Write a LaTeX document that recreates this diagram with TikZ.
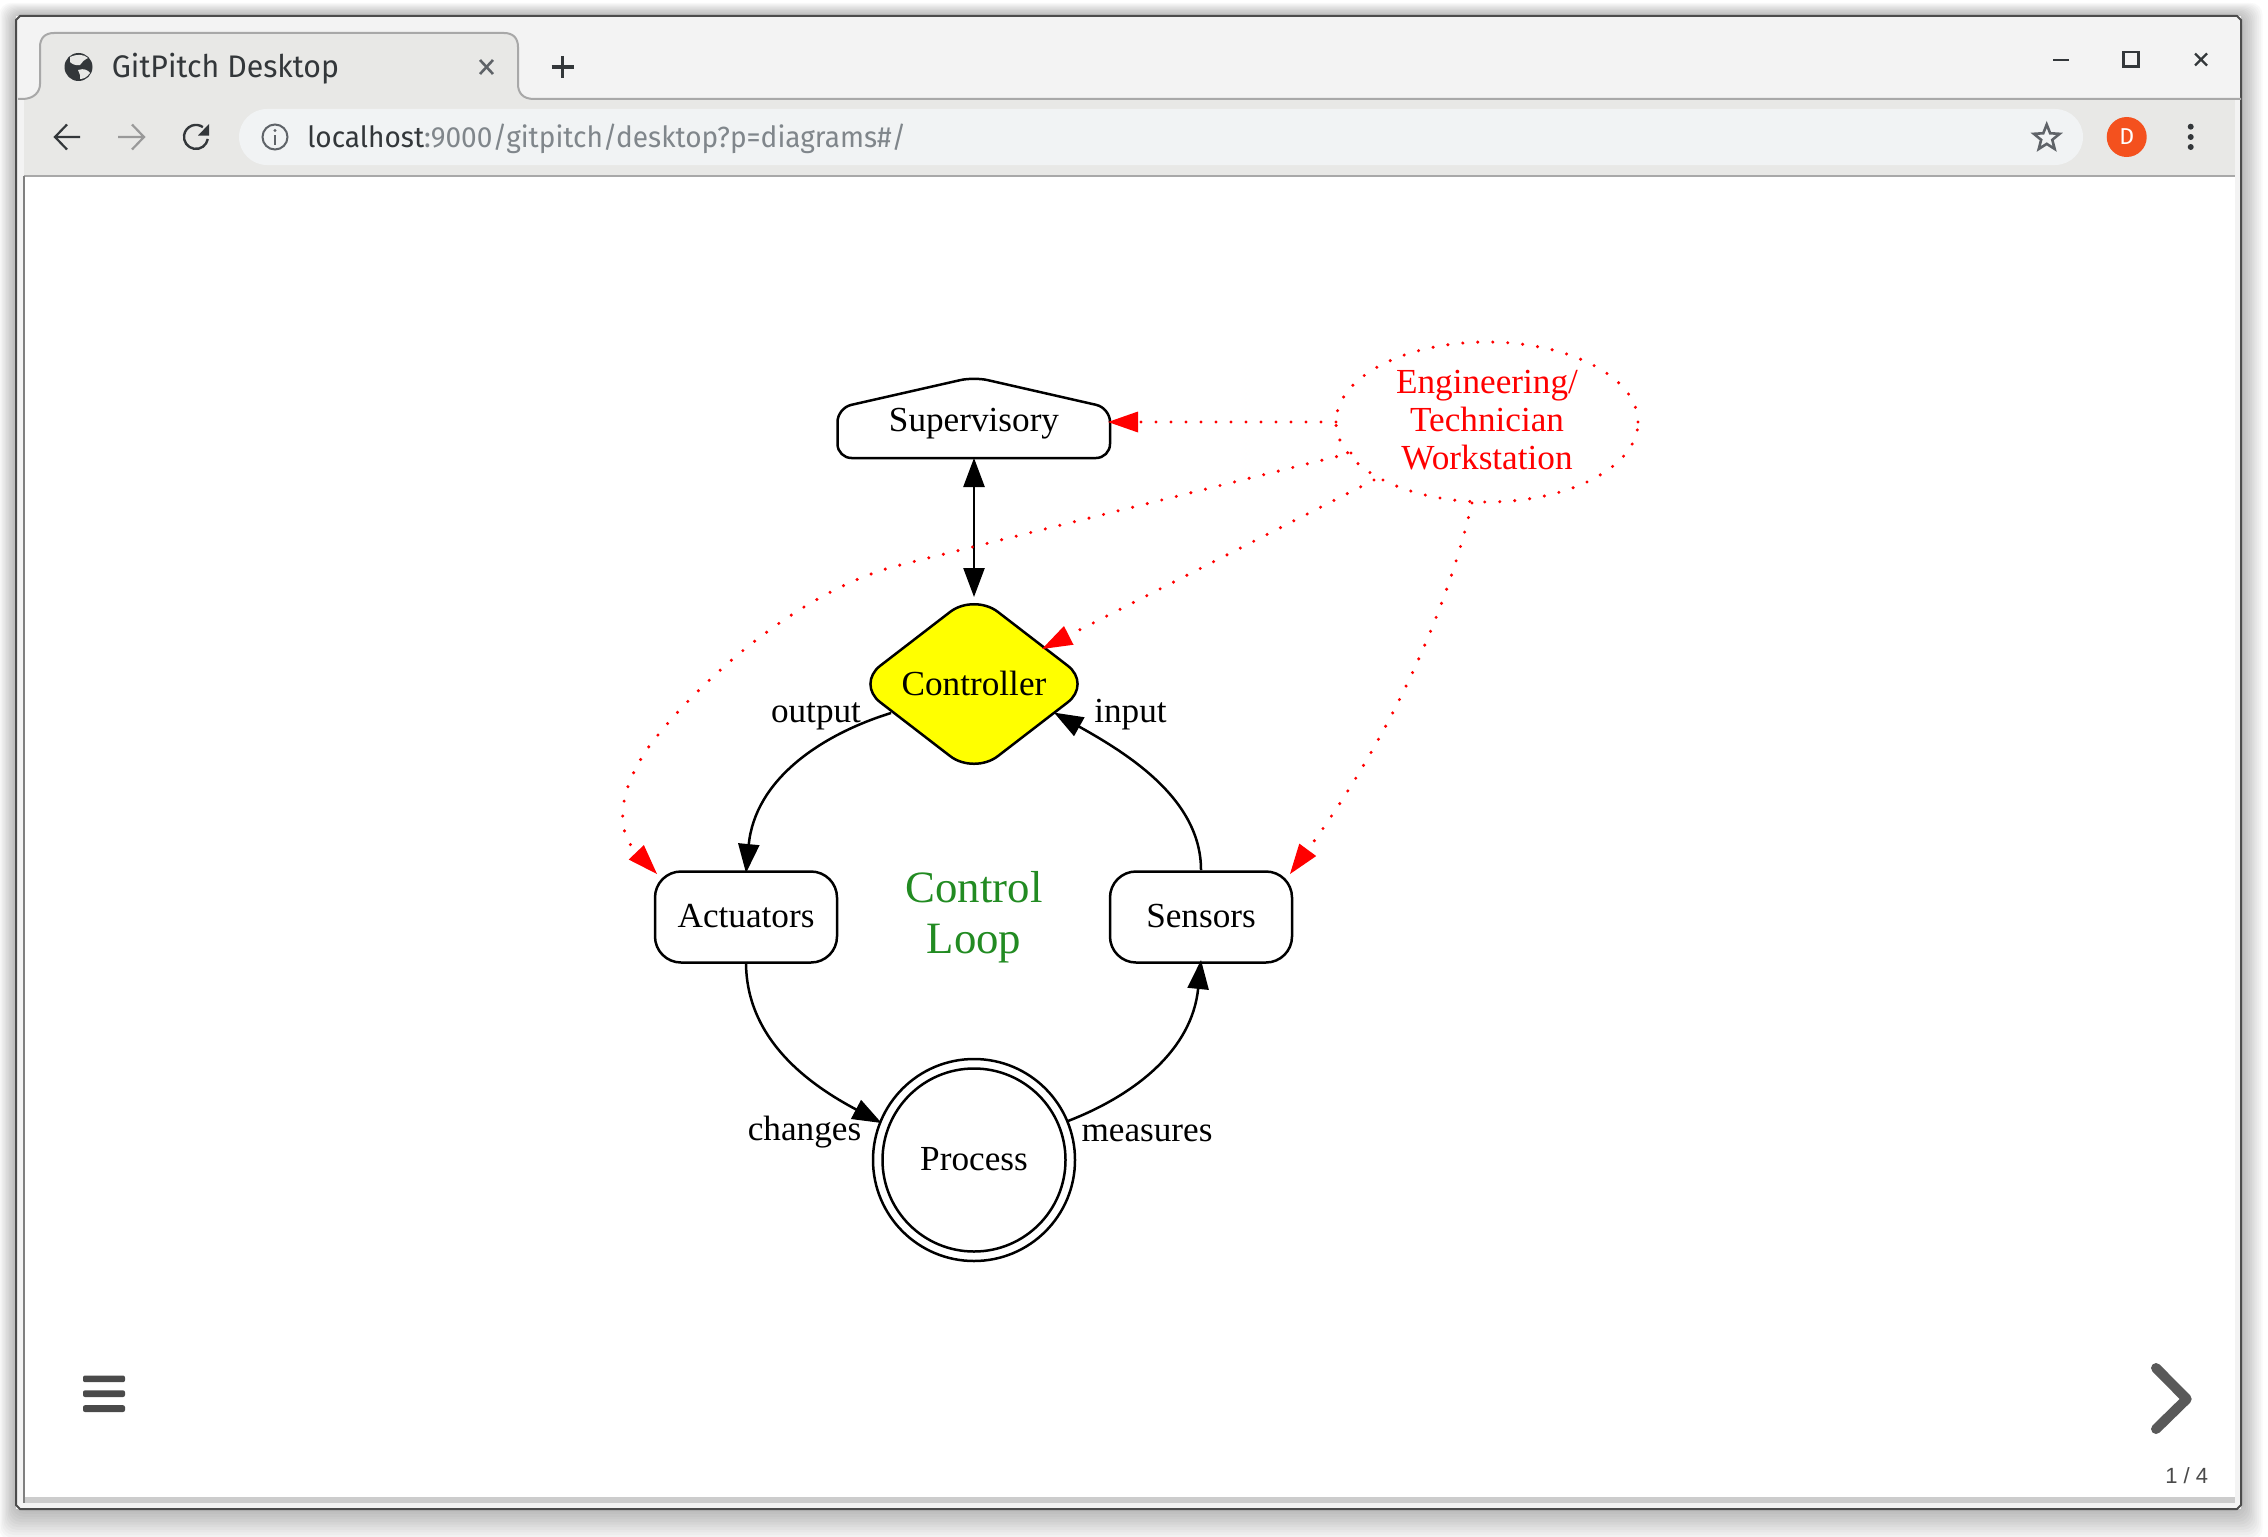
\documentclass[tikz,border=0pt]{standalone}
\usepackage{fontspec}
\setmainfont{Liberation Serif}
\newfontfamily\uifont{Fira Sans}
\newfontfamily\urlfont[FakeStretch=0.96]{Fira Sans}
\newfontfamily\tabfont[FakeStretch=0.97]{Fira Sans}
\newfontfamily\pagefont{Liberation Sans}
\usetikzlibrary{arrows.meta,shapes.geometric}
\definecolor{tabgrey}{HTML}{E8E8E6}
\definecolor{barlight}{HTML}{F3F3F3}
\definecolor{edgegrey}{HTML}{A8A8A8}
\definecolor{omni}{HTML}{F1F3F4}
\definecolor{iconink}{HTML}{33373A}
\definecolor{iconsoft}{HTML}{5F6368}
\definecolor{urlgrey}{HTML}{80868B}
\definecolor{avatar}{HTML}{F4511E}
\definecolor{navink}{HTML}{4A4A4A}
\definecolor{loopgreen}{RGB}{34,139,34}
\definecolor{ctrlyellow}{RGB}{255,255,0}
\definecolor{dotred}{RGB}{255,0,0}
\tikzset{
  gvtext/.style={font=\fontsize{17.6}{19}\selectfont,text=black,inner sep=0pt},
  gvbox/.style={draw=black,line width=1.25pt,rectangle,rounded corners=13pt,minimum width=91pt,minimum height=45.5pt,inner sep=0pt,font=\fontsize{17.6}{19}\selectfont},
  flow/.style={draw=black,line width=1.25pt,-{Triangle[length=14.5pt,width=10.5pt]}},
  redflow/.style={draw=dotred,line width=1.7pt,dash pattern=on 0pt off 7.5pt,line cap=round,-{Triangle[length=15pt,width=10.5pt,line width=0pt]}},
  edgelabel/.style={font=\fontsize{17.6}{19}\selectfont,anchor=base,inner sep=0pt},
  uitext/.style={font=\uifont,inner sep=0pt,anchor=base west},
}
\begin{document}
\begin{tikzpicture}[x=0.5pt,y=-0.5pt]
\useasboundingbox (0,0) rectangle (2268,1536);
\fill[white] (0,0) rectangle (2268,1536);
% window shadow
\foreach \d in {2,4,...,24}{
  \fill[black,opacity=.022,rounded corners=6pt] ({16-0.7*\d},{16-0.55*\d}) rectangle ({2241+0.9*\d},{1509+1.3*\d});
}
% window
\fill[barlight] (16,16) rectangle (2241,1509);
\fill[white] (24,176) rectangle (2235,1497);
\fill[tabgrey] (24,99) rectangle (2235,176);
\fill[barlight] (2235,99) rectangle (2241,1509);
\fill[black!20] (24,1497) rectangle (2235,1503);
\draw[edgegrey,line width=1pt] (24,176) -- (2235,176);
\draw[gray,line width=1.2pt] (24,176) -- (24,1503);
\draw[black!70,line width=1pt] (16,1505) -- (16,20) -- (20,16) -- (2237,16) -- (2241,20) -- (2241,1505) -- (2237,1509) -- (20,1509) -- cycle;
% tab
\fill[tabgrey] (22,99) .. controls (34,99) and (40,92) .. (40,84) -- (40,47) .. controls (40,38) and (45,33) .. (54,33) -- (504,33) .. controls (513,33) and (518,38) .. (518,47) -- (518,84) .. controls (518,92) and (522,99) .. (534,99) -- cycle;
\draw[edgegrey,line width=1pt] (18,99) -- (22,99) .. controls (34,99) and (40,92) .. (40,84) -- (40,47) .. controls (40,38) and (45,33) .. (54,33) -- (504,33) .. controls (513,33) and (518,38) .. (518,47) -- (518,84) .. controls (518,92) and (522,99) .. (534,99) -- (2241,99);
% favicon
\node[circle,fill=iconink,minimum size=14pt,inner sep=0pt] (globe) at (78.5,67) {};
\fill[tabgrey] (70,57) .. controls (76,54) and (84,54) .. (88,58) .. controls (84,60) and (82,62) .. (80,65) .. controls (76,66) and (72,64) .. (70,62) -- cycle;
\fill[tabgrey] (78,70) .. controls (84,68) and (88,70) .. (90,73) .. controls (87,77) and (84,79) .. (80,79) -- (80,75) -- cycle;
\node[uitext,text=iconink,font=\tabfont\fontsize{15.6}{18}\selectfont] (tabtitle) at (111.5,78) {GitPitch Desktop};
\draw[iconsoft,line width=1.3pt] (480,60) -- (493,74) (493,60) -- (480,74);
\draw[iconink,line width=1.6pt] (551.5,67) -- (573.5,67) (562.5,56) -- (562.5,78);
% window buttons
\draw[iconink,line width=1.1pt] (2053,59.7) -- (2069,59.7);
\draw[iconink,line width=1.1pt] (2123.5,52) rectangle (2138.5,66.5);
\draw[iconink,line width=1.1pt] (2195,53.5) -- (2207,65.5) (2207,53.5) -- (2195,65.5);
% toolbar
\draw[iconink,line width=1.1pt] (80,137) -- (55,137) (67,124.5) -- (55,137) -- (67,149.5);
\draw[black!40,line width=1.1pt] (118,137) -- (144,137) (132,124.5) -- (144,137) -- (132,149.5);
\draw[iconink,line width=1.2pt] (207.8,139) arc[start angle=10,end angle=305,radius=12];
\fill[iconink] (209,124) -- (209,135.5) -- (198,135.5) -- cycle;
\fill[omni,rounded corners=14pt] (239,109) rectangle (2083,165);
\node[circle,draw=iconsoft,line width=1pt,minimum size=12.5pt,inner sep=0pt] (info) at (275,137) {};
\draw[iconsoft,line width=1pt] (275,135) -- (275,145);
\fill[iconsoft] (275,130.5) circle[radius=1.7];
\node[uitext,font=\urlfont\fontsize{14.6}{18}\selectfont] (url) at (307,147.5) {\textcolor{iconink}{localhost}\textcolor{urlgrey}{:9000/gitpitch/desktop?p=diagrams\#/}};
\node[star,star points=5,star point ratio=2.3,draw=iconsoft,line width=1.3pt,minimum size=13.5pt,inner sep=0pt] (fav) at (2046.7,138) {};
\node[circle,fill=avatar,minimum size=20pt,inner sep=0pt,text=white,font=\uifont\fontsize{11.5}{12}\selectfont] (profile) at (2126.7,137) {D};
\foreach \yy in {126.7,137,147}{\fill[iconink] (2190.7,\yy) circle[radius=3];}
% nav controls
\fill[navink,rounded corners=1pt] (83,1375.5) rectangle (125,1382.2) (83,1390.3) rectangle (125,1397) (83,1405.2) rectangle (125,1412);
\draw[black!65,line width=5pt,line cap=round,line join=round] (2156,1368) -- (2186.7,1399) -- (2156,1429);
\node[font=\pagefont\fontsize{11}{12}\selectfont,text=navink,anchor=base east,inner sep=0pt] (pageno) at (2208.5,1483.5) {1 / 4};
% diagram nodes
\draw[line width=1.25pt,fill=white,rounded corners=7pt] (974,377) -- (1110,408) -- (1110,458) -- (837.5,458) -- (837.5,408) -- cycle;
\node[gvtext,anchor=base] (sup) at (974,431.5) {Supervisory};
\coordinate (supS) at (974,458);
\coordinate (supE) at (1108,422);
\node[diamond,draw=black,fill=ctrlyellow,line width=1.25pt,rounded corners=15pt,minimum width=118pt,minimum height=91pt,inner sep=0pt,gvtext] (ctrl) at (974,684) {\raisebox{1.2pt}{Controller}};
\node[gvbox] (act) at (746,917) {\raisebox{0.8pt}{Actuators}};
\node[gvbox] (sen) at (1201,917) {\raisebox{0.8pt}{Sensors}};
\node[circle,draw=black,line width=1.25pt,minimum size=91.5pt,inner sep=0pt,gvtext] (proc) at (974,1160) {\raisebox{1pt}{Process}};
\draw[black,line width=1.25pt] (proc) circle[radius=101];
\node[ellipse,draw=dotred,line width=1.7pt,dash pattern=on 0pt off 7.5pt,line cap=round,minimum width=151pt,minimum height=80pt,inner sep=0pt,text=dotred,align=center,font=\fontsize{17.6}{19}\selectfont] (eng) at (1487,422) {};
\node[align=center,text=dotred,inner sep=0pt,font=\fontsize{17.6}{19}\selectfont] (engtext) at (1487,420.5) {Engineering/\\Technician\\Workstation};
\node[align=center,text=loopgreen,inner sep=0pt,font=\fontsize{22.4}{25.5}\selectfont] (loop) at (974,917.5) {Control\\Loop};
% edge labels
\node[edgelabel] (lo) at (816,722) {output};
\node[edgelabel] (li) at (1130.5,722.5) {input};
\node[edgelabel] (lc) at (804.5,1140) {changes};
\node[edgelabel] (lm) at (1147,1141) {measures};
% edge end points
\coordinate (ctrlTip) at (974,597);
\coordinate (ctrlOut) at (891,713);
\coordinate (ctrlIn) at (1054,712.6);
\coordinate (ctrlRed) at (1042,649);
\coordinate (actIn) at (746,873);
\coordinate (actRed) at (657,874);
\coordinate (senOut) at (1201,870);
\coordinate (senIn) at (1201,960);
\coordinate (senRed) at (1290,874);
\coordinate (procIn) at (881.6,1123);
\coordinate (procOut) at (1068,1121);
\coordinate (actOut) at (746,962);
\coordinate (engW) at (1336,422);
\coordinate (engA) at (1351,453);
\coordinate (engC) at (1374,480);
\coordinate (engS) at (1472,503);
% black edges
\draw[flow,{Triangle[length=14.5pt,width=10.5pt]}-{Triangle[length=14.5pt,width=10.5pt]}] (supS) -- (ctrlTip);
\draw[flow] (ctrlOut) .. controls (820,735) and (755,780) .. (actIn);
\draw[flow] (senOut) .. controls (1201,800) and (1130,755) .. (ctrlIn);
\draw[flow] (actOut) .. controls (746,1040) and (810,1085) .. (procIn);
\draw[flow] (procOut) .. controls (1135,1095) and (1192,1050) .. (senIn);
% red edges
\draw[redflow] (engW) -- (supE);
\draw[redflow] (engC) -- (ctrlRed);
\draw[redflow] (engS) .. controls (1440,640) and (1370,765) .. (senRed);
\draw[redflow] (engA) -- (900,565) .. controls (800,590) and (700,680) .. (650,745) .. controls (618,790) and (615,830) .. (actRed);
\end{tikzpicture}
\end{document}
